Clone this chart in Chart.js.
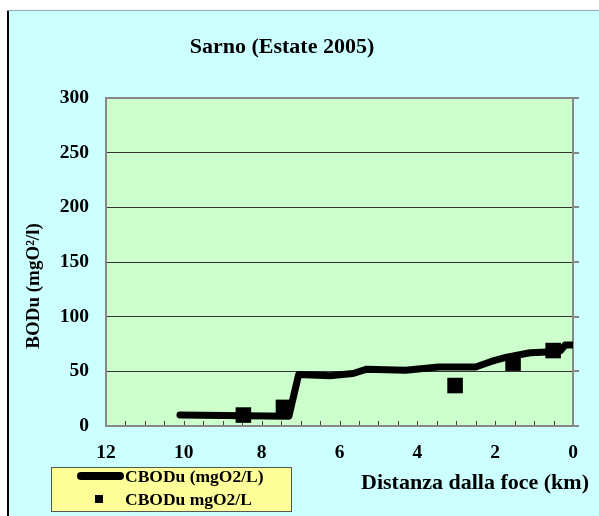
<!DOCTYPE html>
<html>
<head>
<meta charset="utf-8">
<script src="https://cdn.jsdelivr.net/npm/chart.js@4.4.1/dist/chart.umd.min.js"></script>
<style>
  body { margin: 0; background: #fff; }
  #wrap { position: relative; width: 599px; height: 516px; }
  #legend {
    position: absolute; left: 51px; top: 467px; width: 239px; height: 43px;
    background: #ffff99; border: 1px solid #555;
    font: bold 17.5px "Liberation Serif", "Times New Roman", serif; color: #000;
  }
  #legend .row { position: absolute; left: 0; height: 18px; line-height: 18px; white-space: nowrap; }
  #legend .txt { position: absolute; left: 73px; top: 0; }
  #legend .line { position: absolute; left: 25px; top: 5px; width: 47px; height: 8px; background: #000; border-radius: 4px; }
  #legend .sq { position: absolute; left: 43px; top: 5px; width: 8px; height: 8px; background: #000; }
</style>
</head>
<body>
<div id="wrap">
  <canvas id="bodChart" width="599" height="516"></canvas>
  <div id="legend"></div>
</div>
<script>
// distance from the river mouth (km) and BODu along the model profile
const modelKm  = [10.1, 7.3, 7.05, 6.25, 5.65, 5.3, 4.3, 3.45, 2.5, 2.1, 1.7, 1.1, 0.5, 0.33, 0.2, 0];
const modelBod = [10, 9, 47, 46, 48, 52, 51, 54, 54, 59, 63, 67, 68, 68.5, 74, 74];

// measured samples
const sampleKm  = [8.47, 7.44, 3.03, 1.54, 0.51];
const sampleBod = [10, 17, 37, 57.5, 69];

const seriesLabels = ['CBODu (mgO2/L)', 'CBODu mgO2/L'];
const yTicks = { min: 0, max: 300, step: 50 };
const xTicks = { min: 0, max: 12, step: 0.5, labelEvery: 2 };

const serif = '"Liberation Serif", "Times New Roman", serif';

const backdrop = {
  id: 'backdrop',
  beforeDraw(chart) {
    const { ctx, chartArea: a, width, height } = chart;
    ctx.save();
    ctx.fillStyle = '#ffffff';
    ctx.fillRect(0, 0, width, height);
    ctx.fillStyle = '#ccffff';
    ctx.fillRect(8, 10, width - 8, height - 10);
    ctx.fillStyle = '#ccffcc';
    ctx.fillRect(a.left, a.top, a.right - a.left, a.bottom - a.top);
    ctx.fillStyle = '#000';
    ctx.fillRect(7, 10, 2, height - 10);
    ctx.fillStyle = '#8fa8b0';
    ctx.fillRect(7, 10, width - 7, 1);
    ctx.restore();
  },
  beforeDatasetsDraw(chart) {
    const { ctx, chartArea: a, scales } = chart;
    ctx.save();
    // small ticks pointing into the plot along the distance axis
    ctx.strokeStyle = '#444';
    ctx.lineWidth = 1;
    scales.x.ticks.forEach(t => {
      const px = Math.round(scales.x.getPixelForValue(t.value)) + 0.5;
      ctx.beginPath();
      ctx.moveTo(px, a.bottom);
      ctx.lineTo(px, a.bottom - 5);
      ctx.stroke();
    });
    // plot frame and outer ticks on the right edge
    ctx.strokeStyle = '#888';
    ctx.lineWidth = 2;
    ctx.strokeRect(a.left, a.top, a.right - a.left, a.bottom - a.top);
    scales.y.ticks.forEach(t => {
      const py = Math.round(scales.y.getPixelForValue(t.value));
      ctx.beginPath();
      ctx.moveTo(a.right, py);
      ctx.lineTo(a.right + 6, py);
      ctx.stroke();
    });
    ctx.restore();
  },
  afterDraw(chart) {
    const { ctx } = chart;
    ctx.save();
    ctx.fillStyle = '#000';
    ctx.textBaseline = 'middle';
    ctx.textAlign = 'center';
    ctx.font = 'bold 22px ' + serif;
    ctx.fillText('Sarno (Estate 2005)', 282, 47);
    ctx.fillText('Distanza dalla foce (km)', 475, 483);
    ctx.translate(34, 286);
    ctx.rotate(-Math.PI / 2);
    ctx.font = 'bold 19px ' + serif;
    ctx.fillText('BODu (mgO\u00b2/l)', 0, 0);
    ctx.restore();
  }
};

const chart = new Chart(document.getElementById('bodChart'), {
  type: 'line',
  data: {
    datasets: [{
      label: seriesLabels[0],
      data: modelKm.map((k, i) => ({ x: k, y: modelBod[i] })),
      borderColor: '#000',
      borderWidth: 7,
      borderCapStyle: 'round',
      borderJoinStyle: 'round',
      pointRadius: 0,
      tension: 0,
      fill: false
    }, {
      type: 'scatter',
      label: seriesLabels[1],
      data: sampleKm.map((k, i) => ({ x: k, y: sampleBod[i] })),
      pointStyle: 'rect',
      pointRadius: 11,
      backgroundColor: '#000',
      borderWidth: 0
    }]
  },
  options: {
    responsive: false,
    animation: false,
    layout: { padding: { left: 10, right: 26, top: 98, bottom: 0 } },
    plugins: {
      legend: { display: false },
      tooltip: { enabled: false },
      title: { display: false }
    },
    scales: {
      x: {
        type: 'linear',
        reverse: true,
        min: xTicks.min,
        max: xTicks.max,
        afterFit(s) { s.height = 90; },
        border: { color: '#777', width: 2 },
        grid: { drawOnChartArea: false, drawTicks: false },
        ticks: {
          stepSize: xTicks.step,
          autoSkip: false,
          maxRotation: 0,
          padding: 15,
          color: '#000',
          font: { family: serif, size: 19.5, weight: 'bold' },
          callback: v => (v % xTicks.labelEvery === 0 ? v : '')
        }
      },
      y: {
        min: yTicks.min,
        max: yTicks.max,
        afterFit(s) { s.width = 96; },
        border: { color: '#888', width: 2 },
        grid: { color: '#333', lineWidth: 1, drawTicks: false },
        ticks: {
          stepSize: yTicks.step,
          padding: 17,
          color: '#000',
          font: { family: serif, size: 19.5, weight: 'bold' }
        }
      }
    }
  },
  plugins: [backdrop]
});

// legend box built from the dataset labels
const legendEl = document.getElementById('legend');
chart.data.datasets.forEach((ds, i) => {
  const row = document.createElement('div');
  row.className = 'row';
  row.style.top = (i === 0 ? -1 : 22) + 'px';
  row.style.width = '239px';
  const swatch = document.createElement('span');
  swatch.className = i === 0 ? 'line' : 'sq';
  const txt = document.createElement('span');
  txt.className = 'txt';
  txt.textContent = ds.label;
  row.appendChild(swatch);
  row.appendChild(txt);
  legendEl.appendChild(row);
});
</script>
</body>
</html>
